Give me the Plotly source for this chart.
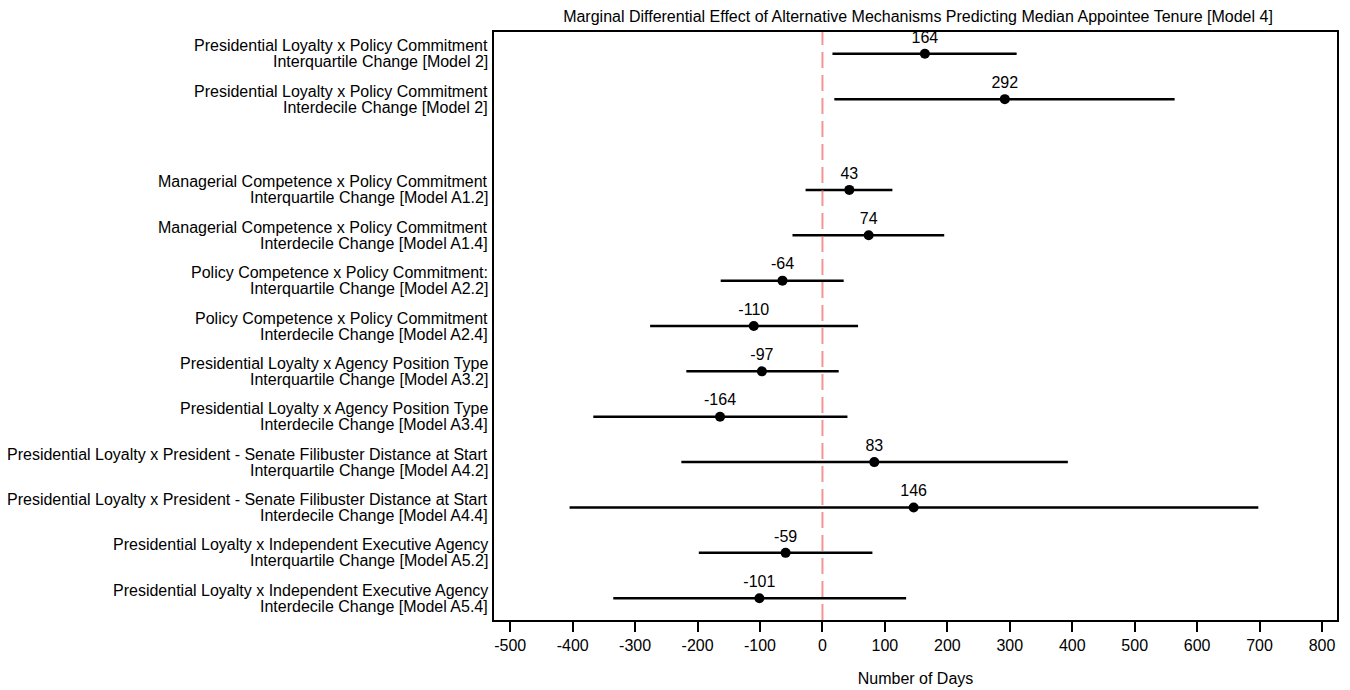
import plotly.graph_objects as go

label_line1 = [
    "Presidential Loyalty x Policy Commitment",
    "Presidential Loyalty x Policy Commitment",
    "",
    "Managerial Competence x Policy Commitment",
    "Managerial Competence x Policy Commitment",
    "Policy Competence x Policy Commitment:",
    "Policy Competence x Policy Commitment",
    "Presidential Loyalty x Agency Position Type",
    "Presidential Loyalty x Agency Position Type",
    "Presidential Loyalty x President - Senate Filibuster Distance at Start",
    "Presidential Loyalty x President - Senate Filibuster Distance at Start",
    "Presidential Loyalty x Independent Executive Agency",
    "Presidential Loyalty x Independent Executive Agency",
]
label_line2 = [
    "Interquartile Change [Model 2]",
    "Interdecile Change [Model 2]",
    "",
    "Interquartile Change [Model A1.2]",
    "Interdecile Change [Model A1.4]",
    "Interquartile Change [Model A2.2]",
    "Interdecile Change [Model A2.4]",
    "Interquartile Change [Model A3.2]",
    "Interdecile Change [Model A3.4]",
    "Interquartile Change [Model A4.2]",
    "Interdecile Change [Model A4.4]",
    "Interquartile Change [Model A5.2]",
    "Interdecile Change [Model A5.4]",
]
estimate = [164, 292, None, 43, 74, -64, -110, -97, -164, 83, 146, -59, -101]
lower = [16, 19, None, -27, -48, -163, -276, -218, -367, -226, -405, -198, -335]
upper = [311, 564, None, 112, 195, 34, 57, 26, 40, 393, 698, 80, 134]
x_ticks = list(range(-500, 801, 100))
x_tick_text = [str(v) for v in x_ticks]

rows = [i for i, e in enumerate(estimate) if e is not None]
ys = rows
xs = [estimate[i] for i in rows]
err_plus = [upper[i] - estimate[i] for i in rows]
err_minus = [estimate[i] - lower[i] for i in rows]

FONT = "Arial, Liberation Sans, sans-serif"
FS = 16

fig = go.Figure()
fig.add_trace(go.Scatter(
    x=xs, y=ys, mode="markers+text",
    text=[str(v) for v in xs], textposition="top center",
    textfont=dict(family=FONT, size=FS, color="black"),
    marker=dict(color="black", size=10),
    error_x=dict(type="data", symmetric=False, array=err_plus, arrayminus=err_minus,
                 color="black", thickness=2.5, width=0),
    showlegend=False, hoverinfo="skip",
))

fig.add_shape(type="line", xref="x", yref="paper", x0=0, x1=0, y0=0, y1=1,
              line=dict(color="rgba(240,90,90,0.65)", width=2, dash="16px,7px"))

annotations = []
for i, (l1, l2) in enumerate(zip(label_line1, label_line2)):
    if not l1:
        continue
    for txt, shift in ((l1, 8), (l2, -8)):
        annotations.append(dict(
            text=txt, xref="paper", yref="y", x=0, y=i, xanchor="right", yanchor="middle",
            xshift=-4, yshift=shift, showarrow=False,
            font=dict(family=FONT, size=FS, color="black"),
        ))

fig.update_layout(
    width=1350, height=690,
    margin=dict(l=494, r=13, t=32, b=70),
    paper_bgcolor="white", plot_bgcolor="white",
    font=dict(family=FONT, size=FS, color="black"),
    title=dict(text="Marginal Differential Effect of Alternative Mechanisms Predicting Median Appointee Tenure [Model 4]",
               x=0.68, xanchor="center", y=0.985, yanchor="top",
               font=dict(family=FONT, size=FS, color="black")),
    xaxis=dict(range=[-526, 824], tickvals=x_ticks, ticktext=x_tick_text,
               ticks="outside", ticklen=10,
               tickwidth=1.5, tickcolor="black", showgrid=False, zeroline=False,
               showline=True, linecolor="black", linewidth=1.5, mirror=True,
               automargin=False, tickfont=dict(family=FONT, size=FS),
               title=dict(text="Number of Days", font=dict(family=FONT, size=FS), standoff=20)),
    yaxis=dict(range=[12.48, -0.48], showticklabels=False,
               ticks="", showgrid=False, zeroline=False, showline=True,
               linecolor="black", linewidth=1.5, mirror=True, automargin=False),
    annotations=annotations,
)

fig.write_html("out.html", config={"displayModeBar": False},
               post_script="document.body.style.margin='0';document.body.style.overflow='hidden';")
